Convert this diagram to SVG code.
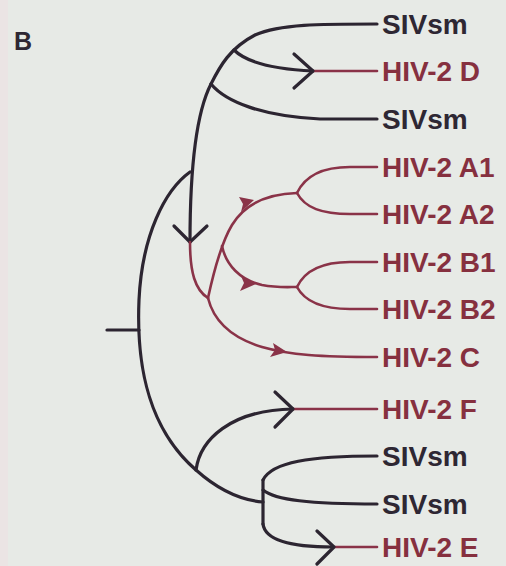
<svg xmlns="http://www.w3.org/2000/svg" width="506" height="566" viewBox="0 0 506 566">
<defs>
<style>
.bg{fill:#e7eae6}
.k{fill:none;stroke:#2c2531;stroke-width:3.2;stroke-linecap:round;stroke-linejoin:round}
.r{fill:none;stroke:#8a3348;stroke-width:2.6;stroke-linecap:round;stroke-linejoin:round}
.ra{fill:#8a3348;stroke:none}
.lbl{font-family:"Liberation Sans",Arial,Helvetica,sans-serif;font-weight:bold;font-size:28px}
.siv{fill:#2e2733}
.hiv{fill:#86303f}
</style>
</defs>
<rect class="bg" x="0" y="0" width="506" height="566"/>
<rect x="0" y="0" width="8" height="566" fill="#efdfe2" opacity="0.6"/>
<text class="lbl siv" x="14" y="50" style="font-size:25px">B</text>

<g id="connectors">
  <path class="k" d="M190,242 C190,175 195,115 211,84 C220,66 230,48 255,35 C280,24 320,24 377,24"/>
  <path class="k" d="M234,50 C246,62 271,69 313,71"/>
  <path class="r" d="M313,71 L377,71"/>
  <path class="k" d="M294,54 L313,71 L294,88"/>
  <path class="k" d="M211,84 C226,102 262,116 320,119 L377,119"/>
  <path class="k" d="M174,226 L190,242 L207,226"/>
  <path class="k" d="M190,172 C165,190 142,235 139,300 C136,370 150,430 196,470 C215,487 238,500 263,502"/>
  <path class="k" d="M107,330 L139,330"/>
  <path class="r" d="M190,242 C190,272 195,290 208,298"/>
  <path class="r" d="M208,298 C213,275 220,245 232,225 C243,207 262,194 297,193"/>
  <path class="r" d="M222,246 C226,265 240,280 262,285 C278,288 288,287 297,287"/>
  <path class="r" d="M208,298 C214,322 232,338 262,347 C290,355 320,357 377,357"/>
  <path class="r" d="M297,193 C305,176 322,167 350,167 L377,167"/>
  <path class="r" d="M297,193 C305,208 322,214 350,214 L377,214"/>
  <path class="r" d="M297,287 C305,270 322,262 350,262 L377,262"/>
  <path class="r" d="M297,287 C305,302 322,309 350,309 L377,309"/>
  <path class="ra" d="M254,200 L239,197 L243,204 L241,212 Z"/>
  <path class="ra" d="M256,284 L241,276 L244,283 L240,291 Z"/>
  <path class="ra" d="M287,352 L273,343 L275,350 L270,357 Z"/>
  <path class="k" d="M196,470 C200,440 230,410 293,409"/>
  <path class="r" d="M293,409 L377,409"/>
  <path class="k" d="M275,392 L293,409 L275,427"/>
  <path class="k" d="M263,480 L263,524"/>
  <path class="k" d="M263,480 C272,462 310,456 377,456"/>
  <path class="k" d="M263,490 C275,500 310,504 377,504"/>
  <path class="k" d="M263,524 C265,540 290,547 333,547"/>
  <path class="r" d="M333,547 L377,547"/>
  <path class="k" d="M317,531 L334,547 L317,564"/>
</g>

<g id="n-sivsm1"><text class="lbl siv" x="382" y="34">SIVsm</text></g>
<g id="n-hiv2d"><text class="lbl hiv" x="382" y="81">HIV-2 D</text></g>
<g id="n-sivsm2"><text class="lbl siv" x="382" y="129">SIVsm</text></g>
<g id="n-hiv2a1"><text class="lbl hiv" x="382" y="177">HIV-2 A1</text></g>
<g id="n-hiv2a2"><text class="lbl hiv" x="382" y="224">HIV-2 A2</text></g>
<g id="n-hiv2b1"><text class="lbl hiv" x="382" y="272">HIV-2 B1</text></g>
<g id="n-hiv2b2"><text class="lbl hiv" x="382" y="319">HIV-2 B2</text></g>
<g id="n-hiv2c"><text class="lbl hiv" x="382" y="367">HIV-2 C</text></g>
<g id="n-hiv2f"><text class="lbl hiv" x="382" y="419">HIV-2 F</text></g>
<g id="n-sivsm3"><text class="lbl siv" x="382" y="466">SIVsm</text></g>
<g id="n-sivsm4"><text class="lbl siv" x="382" y="514">SIVsm</text></g>
<g id="n-hiv2e"><text class="lbl hiv" x="382" y="557">HIV-2 E</text></g>
</svg>
